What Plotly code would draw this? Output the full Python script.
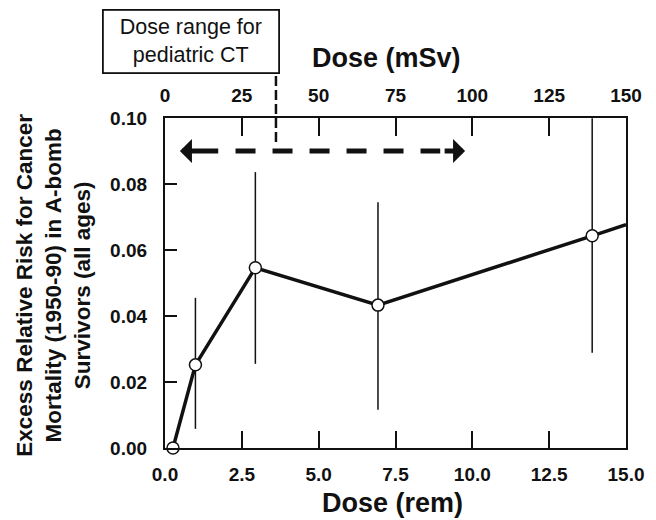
import plotly.graph_objects as go

# ---- data ----
dose_rem = [0.26, 0.99, 2.94, 6.93, 13.9]
err_value = [0.000, 0.0252, 0.0546, 0.0433, 0.0643]
err_upper = [0.000, 0.0455, 0.0836, 0.0745, 0.0999]
err_lower = [0.000, 0.0058, 0.0255, 0.0116, 0.0289]
# the fitted line continues to the right edge of the axis
line_dose = dose_rem + [15.0]
line_err = err_value + [0.0677]

x_ticks_rem = [0.0, 2.5, 5.0, 7.5, 10.0, 12.5, 15.0]
x_ticks_msv = [0, 25, 50, 75, 100, 125, 150]
y_ticks = [0.00, 0.02, 0.04, 0.06, 0.08, 0.10]

# dose range arrow (rem, ERR)
arrow_y = 0.09
arrow_left_tip, arrow_left_tail = 0.485, 1.78
arrow_right_tip, arrow_right_tail = 9.764, 9.05
dash_start, dash_end = 2.295, 8.955

FONT = "Liberation Sans, Arial, Helvetica, sans-serif"
INK = "#111111"

plus = [u - v for u, v in zip(err_upper, err_value)]
minus = [v - l for v, l in zip(err_value, err_lower)]

fig = go.Figure()
fig.add_trace(go.Scatter(
    x=line_dose, y=line_err, mode="lines",
    line=dict(color=INK, width=3.5), hoverinfo="skip", showlegend=False,
    cliponaxis=True,
))
fig.add_trace(go.Scatter(
    x=dose_rem, y=err_value, mode="markers",
    marker=dict(size=12, color="white", line=dict(color=INK, width=1.5)),
    error_y=dict(type="data", symmetric=False, array=plus, arrayminus=minus,
                 color=INK, thickness=1.5, width=0),
    showlegend=False, cliponaxis=False,
))
# invisible trace for the top (mSv) axis
fig.add_trace(go.Scatter(x=[0, 150], y=[0, 0], xaxis="x2", mode="markers",
                         marker=dict(opacity=0), hoverinfo="skip", showlegend=False))

tickfont = dict(family=FONT, size=19, color=INK, weight="bold")

fig.update_layout(
    width=656, height=520,
    margin=dict(l=165, r=27, t=118, b=72),
    paper_bgcolor="white", plot_bgcolor="white",
    font=dict(family=FONT, color=INK),
    xaxis=dict(range=[0, 15], tickvals=x_ticks_rem, ticktext=[f"{v:.1f}" for v in x_ticks_rem],
               ticks="inside", ticklen=17, tickwidth=1.5, tickcolor=INK,
               showline=True, linewidth=2.2, linecolor=INK, mirror=False,
               showgrid=False, zeroline=False, tickfont=tickfont, ticklabelstandoff=8),
    xaxis2=dict(range=[0, 150], tickvals=x_ticks_msv, overlaying="x", side="top", anchor="y",
                ticks="inside", ticklen=18, tickwidth=1.5, tickcolor=INK,
                showline=True, linewidth=2, linecolor=INK,
                showgrid=False, zeroline=False, tickfont=tickfont, ticklabelstandoff=6),
    yaxis=dict(range=[0, 0.1], tickvals=y_ticks, ticktext=[f"{v:.2f}" for v in y_ticks],
               ticks="inside", ticklen=12, tickwidth=1.8, tickcolor=INK,
               showline=True, linewidth=2.2, linecolor=INK, mirror=True,
               showgrid=False, zeroline=False, tickfont=tickfont, ticklabelstandoff=12),
)

# dashed shaft of the dose-range arrow
fig.add_shape(type="line", xref="x", yref="y", x0=dash_start, x1=dash_end,
              y0=arrow_y, y1=arrow_y, line=dict(color=INK, width=5, dash="20px,17px"))
# arrow heads
for tip, tail in [(arrow_left_tip, arrow_left_tail), (arrow_right_tip, arrow_right_tail)]:
    fig.add_annotation(x=tip, y=arrow_y, ax=tail, ay=arrow_y, xref="x", yref="y",
                       axref="x", ayref="y", text="", showarrow=True,
                       arrowhead=1, arrowsize=0.8, arrowwidth=5, arrowcolor=INK)

# vertical dashed leader from the box
fig.add_shape(type="line", xref="paper", yref="paper", x0=0.2407, x1=0.2407,
              y0=0.9274, y1=1.135, line=dict(color=INK, width=2.5, dash="10px,4px"))

# box label
fig.add_annotation(xref="paper", yref="paper", x=0.056, y=1.2305,
                   xanchor="center", yanchor="middle",
                   text="Dose range for<br>pediatric CT", showarrow=False,
                   font=dict(family=FONT, size=21.5, color=INK),
                   bordercolor=INK, borderwidth=1.8, borderpad=2, bgcolor="white",
                   width=170, height=57, align="center")

# axis titles
title_font = dict(family=FONT, size=27, color=INK, weight="bold")
fig.add_annotation(xref="paper", yref="paper", x=0.4806, y=1.1806, text="Dose (mSv)",
                   xanchor="center", yanchor="middle", showarrow=False, font=title_font)
fig.add_annotation(xref="paper", yref="paper", x=0.4935, y=-0.1655, text="Dose (rem)",
                   xanchor="center", yanchor="middle", showarrow=False, font=title_font)
fig.add_annotation(xref="paper", yref="paper", x=-0.2414, y=0.494, textangle=-90,
                   xanchor="center", yanchor="middle",
                   text="Excess Relative Risk for Cancer<br>Mortality (1950-90) in A-bomb<br>Survivors (all ages)",
                   showarrow=False, font=dict(family=FONT, size=22.5, color=INK, weight="bold"))

fig.write_html("out.html")
